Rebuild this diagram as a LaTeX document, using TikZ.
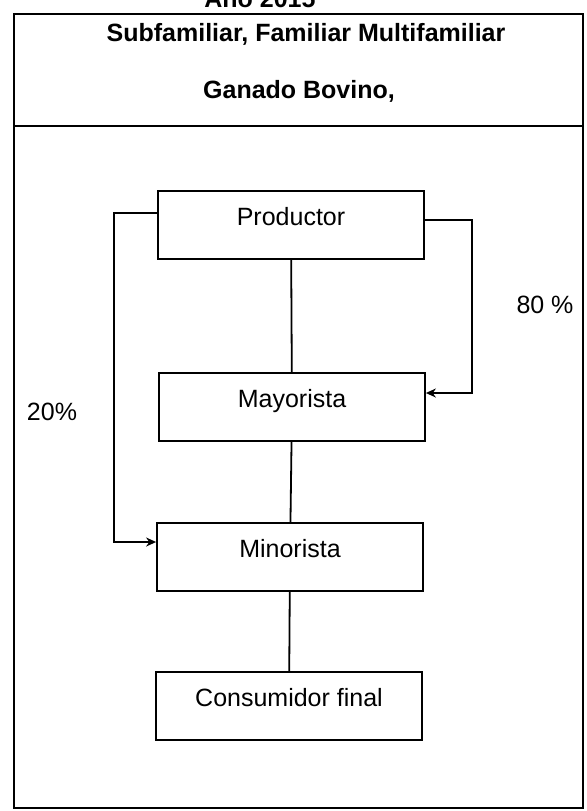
\documentclass[tikz,border=0pt]{standalone}
\usepackage{fontspec}
\setmainfont{Liberation Sans}
\usetikzlibrary{arrows.meta, positioning}

\begin{document}
\begin{tikzpicture}[x=0.5pt, y=-0.5pt, thick,
        agente/.style={draw, line width=0.9pt, inner sep=0pt, minimum width=133pt, text height=17pt, text depth=17pt, anchor=base, font=\fontsize{12.5}{15}\selectfont},
        titulo/.style={anchor=base, font=\bfseries\fontsize{12.5}{15}\selectfont},
        flujo/.style={line width=1.1pt, -{Stealth[length=5pt, width=4.5pt]}}]
    \useasboundingbox (0,0) rectangle (586,811);
    \clip (0,0) rectangle (586,811);

    % marco y encabezado
    \draw[line width=0.8pt] (14,14) rectangle (583,808);
    \draw[line width=0.8pt] (14,126) -- (583,126);
    \node[titulo] (anio) at (260,7) {Año 2015};
    \node[titulo] (tipo) at (306,41) {Subfamiliar, Familiar Multifamiliar};
    \node[titulo] (ganado) at (299,98) {Ganado Bovino,};

    % canal
    \node[agente] (prod) at (291,225) {Productor};
    \node[agente] (mayo) at (292,407) {Mayorista};
    \node[agente] (mino) at (290,557) {Minorista};
    \node[agente] (cons) at (289,706) {Consumidor final};

    \draw[line width=0.9pt] (prod) -- (mayo);
    \draw[line width=0.9pt] (mayo) -- (mino);
    \draw[line width=0.9pt] (mino) -- (cons);

    \coordinate (der) at (472,220);
    \coordinate (derfin) at (472,393);
    \draw[flujo] (prod.east |- der) -- (der) -- (derfin) -- (mayo.east |- derfin);

    \coordinate (izq) at (114,213);
    \coordinate (izqfin) at (114,542);
    \draw[flujo] (prod.west |- izq) -- (izq) -- (izqfin) -- (mino.west |- izqfin);

    \node[font=\fontsize{12.5}{15}\selectfont] (p80) at (545,305) {80 \%};
    \node[font=\fontsize{12.5}{15}\selectfont] (p20) at (52,412) {20\%};
\end{tikzpicture}
\end{document}
